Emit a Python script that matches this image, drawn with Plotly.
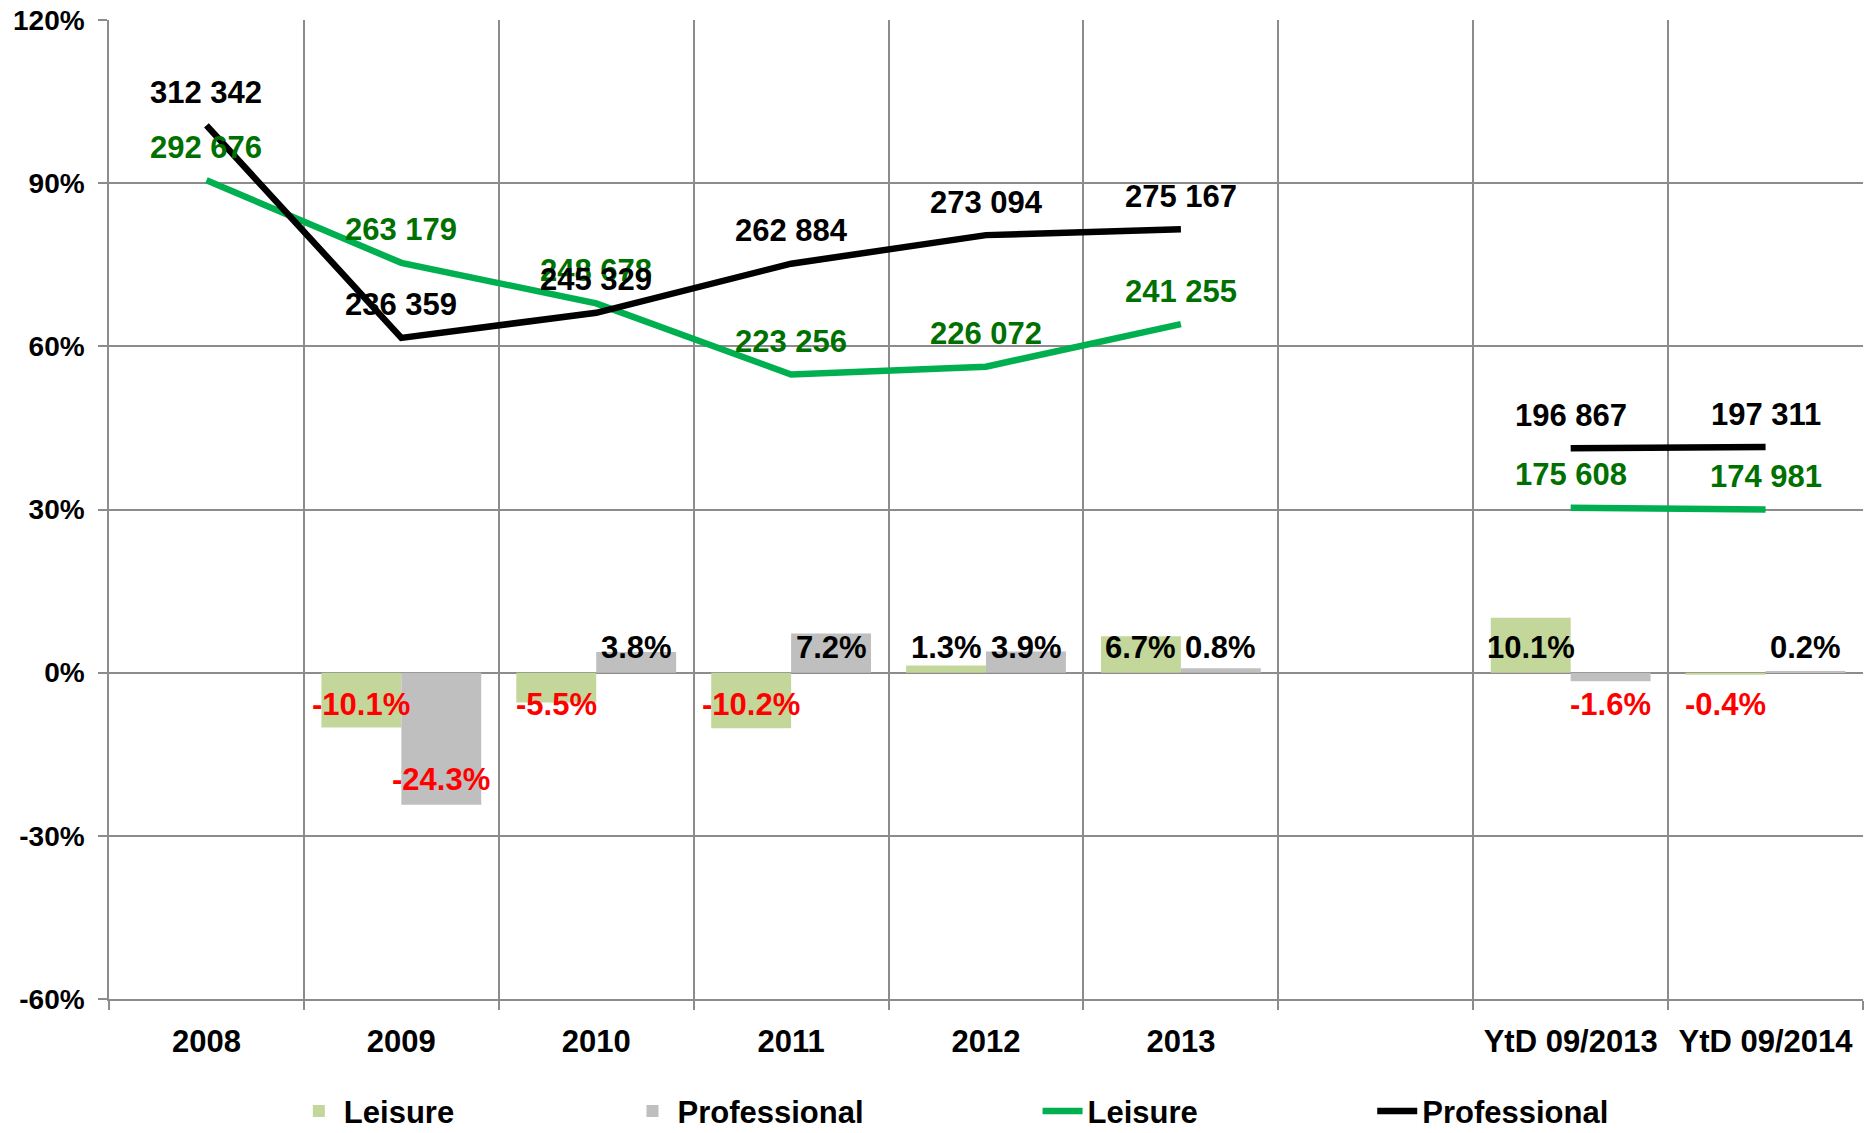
import plotly.graph_objects as go

# ---------------- data ----------------
categories = ["2008", "2009", "2010", "2011", "2012", "2013", " ", "YtD 09/2013", "YtD 09/2014"]
leisure_growth = [None, -10.1, -5.5, -10.2, 1.3, 6.7, None, 10.1, -0.4]
prof_growth = [None, -24.3, 3.8, 7.2, 3.9, 0.8, None, -1.6, 0.2]
leisure_total = [292676, 263179, 248678, 223256, 226072, 241255, None, 175608, 174981]
prof_total = [312342, 236359, 245329, 262884, 273094, 275167, None, 196867, 197311]
y_ticks = [-60, -30, 0, 30, 60, 90, 120]

# ---------------- style ----------------
FONT = "Liberation Sans, Arial, sans-serif"
GRID = "#8C8C8C"
BAR_LEISURE = "#C4D79B"
BAR_PROF = "#BFBFBF"
LINE_LEISURE = "#00B050"
LINE_PROF = "#000000"
LBL_LEISURE = "#007000"
RED = "#FF0000"
BAR_HALF = 40  # pixel offset of each bar centre from category centre
LBL_SIZE = 31


def fmt_total(v):
    return f"{v:,}".replace(",", " ")


fig = go.Figure()

fig.add_trace(go.Bar(x=categories, y=leisure_growth, name="Leisure",
                     marker=dict(color=BAR_LEISURE, line=dict(width=0)),
                     legend="legend"))
fig.add_trace(go.Bar(x=categories, y=prof_growth, name="Professional",
                     marker=dict(color=BAR_PROF, line=dict(width=0)),
                     legend="legend2"))
fig.add_trace(go.Scatter(x=categories, y=leisure_total, name="Leisure", yaxis="y2",
                         mode="lines", line=dict(color=LINE_LEISURE, width=6.5),
                         connectgaps=False, legend="legend3"))
fig.add_trace(go.Scatter(x=categories, y=prof_total, name="Professional", yaxis="y2",
                         mode="lines", line=dict(color=LINE_PROF, width=6.5),
                         connectgaps=False, legend="legend4"))

annotations = []
# bar labels (x given as category index so numeric-looking names are not misread)
for series, shift in ((leisure_growth, -BAR_HALF), (prof_growth, BAR_HALF)):
    for i, v in enumerate(series):
        if v is None:
            continue
        if v >= 0:
            y, ys, col = 0, 25, "#000000"
        elif v < -15:
            y, ys, col = v, 25, RED
        else:
            y, ys, col = 0, -32, RED
        annotations.append(dict(x=i, y=y, xref="x", yref="y", xshift=shift, yshift=ys,
                                text=f"<b>{v:.1f}%</b>", showarrow=False,
                                font=dict(family=FONT, size=LBL_SIZE, color=col),
                                xanchor="center", yanchor="middle"))
# line labels
for series, col in ((leisure_total, LBL_LEISURE), (prof_total, "#000000")):
    for i, v in enumerate(series):
        if v is None:
            continue
        annotations.append(dict(x=i, y=v, xref="x", yref="y2", yshift=33,
                                text=f"<b>{fmt_total(v)}</b>", showarrow=False,
                                font=dict(family=FONT, size=LBL_SIZE, color=col),
                                xanchor="center", yanchor="middle"))

legend_common = dict(orientation="h", yref="container", yanchor="middle", y=0.019,
                     xanchor="left",
                     font=dict(family=FONT, size=31, color="#000000", weight="bold"),
                     bgcolor="rgba(0,0,0,0)", itemwidth=40)

fig.update_layout(
    width=1864, height=1133,
    margin=dict(l=109, r=1, t=20, b=134, autoexpand=False),
    paper_bgcolor="white", plot_bgcolor="white",
    barmode="group", bargap=0.18, bargroupgap=0,
    font=dict(family=FONT, color="#000000"),
    xaxis=dict(type="category", categoryorder="array", categoryarray=categories,
               range=[-0.5, len(categories) - 0.5], tickangle=0, automargin=False,
               tickson="boundaries", ticks="outside", ticklen=9, tickwidth=1.5,
               tickcolor=GRID, showgrid=True, gridcolor=GRID, gridwidth=1.5,
               showline=True, linecolor=GRID, linewidth=1.5,
               tickfont=dict(family=FONT, size=31, color="#000000", weight="bold"),
               ticklabelstandoff=14),
    yaxis=dict(range=[-60, 120], tickvals=y_ticks, ticktext=[f"{t}%" for t in y_ticks],
               automargin=False,
               ticks="outside", ticklen=9, tickwidth=1.5, tickcolor=GRID,
               showgrid=True, gridcolor=GRID, gridwidth=1.5,
               zeroline=True, zerolinecolor=GRID, zerolinewidth=1.5,
               showline=True, linecolor=GRID, linewidth=1.5,
               tickfont=dict(family=FONT, size=28, color="#000000", weight="bold"),
               ticklabelstandoff=8),
    yaxis2=dict(range=[0, 350000], overlaying="y", visible=False),
    legend=dict(legend_common, x=0.1054),
    legend2=dict(legend_common, x=0.2956),
    legend3=dict(legend_common, x=0.5294),
    legend4=dict(legend_common, x=0.7202),
    annotations=annotations,
    showlegend=True,
)

fig.write_html("out.html", config={"displayModeBar": False},
               post_script="document.body.style.margin='0';document.body.style.overflow='hidden';")
